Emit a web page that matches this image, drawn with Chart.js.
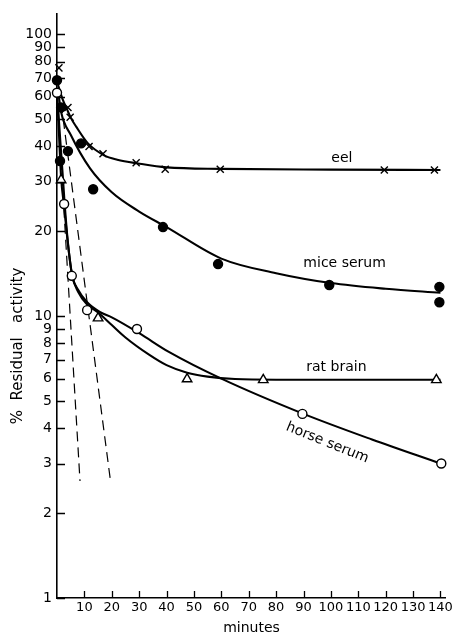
<!DOCTYPE html>
<html>
<head>
<meta charset="utf-8">
<title>Residual activity</title>
<script src="https://cdn.jsdelivr.net/npm/chart.js"></script>
<style>
  html, body { margin: 0; padding: 0; background: #fff; }
</style>
</head>
<body>
<canvas id="chart" width="455" height="637"></canvas>
<script>
  // measured points (minutes, % residual activity)
  const eelX = [0.7, 4, 4.8, 11.7, 16.8, 28.9, 39.5, 59.6, 119.5, 137.8];
  const eelY = [76, 55, 50.8, 40, 37.7, 35, 33.2, 33.2, 33, 33];
  const miceX = [0, 1.5, 1.1, 4, 8.8, 13.2, 38.7, 58.8, 99.4, 139.6, 139.6];
  const miceY = [68.7, 55, 35.5, 38.5, 41, 28.2, 20.7, 15.3, 12.9, 12.7, 11.2];
  const horseX = [0, 2.6, 5.4, 11, 29.2, 89.6, 140.3];
  const horseY = [62, 25, 13.9, 10.5, 9.0, 4.5, 3.0];
  const ratX = [1.5, 15, 47.5, 75.3, 138.5];
  const ratY = [30.4, 9.84, 5.98, 5.94, 5.94];

  // fitted curves as drawn in the figure
  const eelCurveX = [0.4, 2, 3.7, 5.1, 7, 11.3, 17.2, 22, 29.6, 40, 60, 100, 140];
  const eelCurveY = [66, 59, 54, 50.4, 47, 41, 37.2, 35.9, 34.8, 33.7, 33.3, 33.1, 33];
  const miceCurveX = [0.5, 1.5, 5, 12, 20, 30, 40, 60, 80, 100, 120, 140];
  const miceCurveY = [62, 53, 44, 33.5, 27.5, 23.5, 20.7, 16, 14.2, 13.1, 12.5, 12.1];
  const horseCurveX = [0, 1.2, 2.2, 2.8, 4, 5.5, 7.7, 11, 16, 20, 30, 41, 60, 90, 115, 140];
  const horseCurveY = [62, 42, 30.5, 25, 18.2, 14, 12.4, 11.2, 10.3, 9.9, 8.7, 7.45, 6, 4.5, 3.65, 3];
  const ratCurveX = [0.3, 1.5, 2.6, 4, 5.5, 7.7, 11, 15, 20, 25, 33.6, 40, 47.5, 55, 65, 80, 140];
  const ratCurveY = [55, 31, 24.5, 18, 14, 12.2, 11, 10.3, 9.3, 8.4, 7.3, 6.7, 6.3, 6.1, 5.98, 5.95, 5.95];

  // dashed initial-slope lines
  const dashAX = [0.4, 8.4];
  const dashAY = [53, 2.6];
  const dashBX = [1.5, 19.4];
  const dashBY = [57, 2.66];

  // axes
  const xTicks = [10, 20, 30, 40, 50, 60, 70, 80, 90, 100, 110, 120, 130, 140];
  const yTicks = [1, 2, 3, 4, 5, 6, 7, 8, 9, 10, 20, 30, 40, 50, 60, 70, 80, 90, 100];
  const yTickLabels = ['1', '2', '3', '4', '5', '6', '7', '8', '9', '10', '20', '30', '40', '50', '60', '70', '80', '90', '100'];

  // curve names and where they sit
  const curveNames = ['eel', 'mice serum', 'rat brain', 'horse serum'];
  const nameX = [104, 105, 102, 98.7];
  const nameY = [36.3, 15.4, 6.59, 3.55];
  const nameAngle = [0, 0, 0, 22];

  function pts(xs, ys) {
    return xs.map((x, i) => ({ x: x, y: ys[i] }));
  }

  Chart.defaults.font.family = "'DejaVu Sans', sans-serif";
  Chart.defaults.color = '#000';

  function markers(data, style, radius, fill) {
    return {
      data: data, showLine: false, pointStyle: style, pointRadius: radius,
      pointBackgroundColor: fill, pointBorderColor: '#000', pointBorderWidth: 1.4,
      clip: false
    };
  }
  function curve(data) {
    return {
      data: data, showLine: true, pointRadius: 0, borderColor: '#000', borderWidth: 2.1,
      cubicInterpolationMode: 'monotone', clip: false
    };
  }
  function dashed(data) {
    return {
      data: data, showLine: true, pointRadius: 0, borderColor: '#000', borderWidth: 1.2,
      borderDash: [10, 6], clip: false
    };
  }

  // inside tick marks, curve names, y title
  const decor = {
    id: 'decor',
    afterDraw(chart) {
      const ctx = chart.ctx;
      const xs = chart.scales.x, ys = chart.scales.y;
      const a = chart.chartArea;
      ctx.save();
      ctx.strokeStyle = '#000';
      ctx.lineWidth = 1.3;
      ctx.beginPath();
      yTicks.forEach(v => {
        const py = Math.round(ys.getPixelForValue(v)) + 0.5;
        ctx.moveTo(a.left, py);
        ctx.lineTo(a.left + 8, py);
      });
      xTicks.forEach(v => {
        const px = Math.round(xs.getPixelForValue(v)) + 0.5;
        ctx.moveTo(px, a.bottom);
        ctx.lineTo(px, a.bottom - 7);
      });
      ctx.stroke();

      ctx.fillStyle = '#000';
      ctx.font = "14px 'DejaVu Sans', sans-serif";
      ctx.textAlign = 'center';
      ctx.textBaseline = 'middle';
      curveNames.forEach((name, i) => {
        ctx.save();
        ctx.translate(xs.getPixelForValue(nameX[i]), ys.getPixelForValue(nameY[i]));
        ctx.rotate(nameAngle[i] * Math.PI / 180);
        ctx.fillText(name, 0, 0);
        ctx.restore();
      });

      ctx.save();
      ctx.font = "15px 'DejaVu Sans', sans-serif";
      ctx.translate(18, 346);
      ctx.rotate(-Math.PI / 2);
      ctx.fillText('%  Residual   activity', 0, 0);
      ctx.restore();
      ctx.restore();
    }
  };

  new Chart(document.getElementById('chart'), {
    type: 'scatter',
    data: {
      datasets: [
        markers(pts(eelX, eelY), 'crossRot', 5, '#000'),
        markers(pts(miceX, miceY), 'circle', 4.5, '#000'),
        markers(pts(horseX, horseY), 'circle', 4.5, '#fff'),
        markers(pts(ratX, ratY), 'triangle', 5.5, '#fff'),
        curve(pts(eelCurveX, eelCurveY)),
        curve(pts(miceCurveX, miceCurveY)),
        curve(pts(horseCurveX, horseCurveY)),
        curve(pts(ratCurveX, ratCurveY)),
        dashed(pts(dashAX, dashAY)),
        dashed(pts(dashBX, dashBY))
      ]
    },
    options: {
      responsive: false,
      animation: false,
      layout: { padding: { top: 14, right: 9, left: 0, bottom: 0 } },
      plugins: {
        legend: { display: false },
        tooltip: { enabled: false }
      },
      scales: {
        x: {
          type: 'linear',
          min: 0,
          max: 142,
          grid: { display: false, drawTicks: false },
          border: { display: true, color: '#000', width: 1.6 },
          afterBuildTicks: s => { s.ticks = xTicks.map(v => ({ value: v })); },
          afterFit: s => { s.height = 39; },
          ticks: {
            autoSkip: false, maxRotation: 0, padding: 2,
            font: { size: 13 },
            callback: v => String(v)
          },
          title: { display: true, text: 'minutes', font: { size: 14 }, padding: { top: 0, bottom: 0 } }
        },
        y: {
          type: 'logarithmic',
          min: 1,
          max: 118,
          grid: { display: false, drawTicks: false },
          border: { display: true, color: '#000', width: 1.6 },
          afterBuildTicks: s => { s.ticks = yTicks.map(v => ({ value: v })); },
          afterFit: s => { s.width = 57; },
          ticks: {
            autoSkip: false, padding: 5,
            font: { size: 14 },
            callback: (v, i) => yTickLabels[i]
          }
        }
      }
    },
    plugins: [decor]
  });
</script>
</body>
</html>
